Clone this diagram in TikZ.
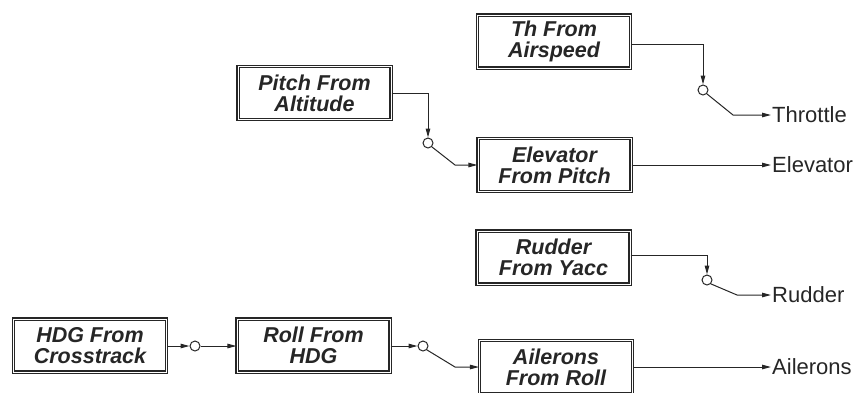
\documentclass[tikz,border=0pt]{standalone}
\usepackage{fontspec}
\setmainfont{Liberation Sans}
\usetikzlibrary{arrows.meta,positioning}

\begin{document}
\begin{tikzpicture}[x=1pt, y=-1pt, box/.style={draw=black!85,line width=1.1pt,double=white,double distance=0.9pt,align=center,minimum width=153pt,minimum height=53pt,inner sep=0pt,font=\fontsize{21.5}{21}\selectfont\bfseries\itshape,text=black!85}, sw/.style={circle,draw=black!85,line width=1pt,minimum size=10pt,inner sep=0pt}, outlbl/.style={anchor=west,inner sep=1pt,font=\fontsize{22}{22}\selectfont,text=black!85}, wire/.style={draw=black!85,line width=1pt}, >={Triangle[length=9pt,width=4.5pt]}]
\useasboundingbox (0,0) rectangle (858,392);
\node[box] (th) at (554,41.5) {Th From\\Airspeed};
\node[box] (pitch) at (314.5,93) {Pitch From\\Altitude};
\node[box] (elev) at (554.5,165) {Elevator\\From Pitch};
\node[box] (rud) at (553.5,257.5) {Rudder\\From Yacc};
\node[box] (hdg) at (90,345.5) {HDG From\\Crosstrack};
\node[box] (roll) at (313.5,345.5) {Roll From\\HDG};
\node[box] (ail) at (556,367) {Ailerons\\From Roll};
\node[sw] (swth) at (703,90) {};
\node[sw] (swel) at (428,143) {};
\node[sw] (swru) at (707,280) {};
\node[sw] (swhd) at (195,346) {};
\node[sw] (swai) at (423,346) {};
\coordinate (kth) at (733,115);
\coordinate (kel) at (455,165);
\coordinate (kru) at (737,295);
\coordinate (kai) at (455,367);
\node[outlbl] (thr) at (771,115) {Throttle};
\node[outlbl] (elo) at (771,165) {Elevator};
\node[outlbl] (ruo) at (771,295) {Rudder};
\node[outlbl] (aio) at (771,367) {Ailerons};
\draw[wire,->] (th.east |- 0,44) -| (swth.north);
\draw[wire,->] (swth.south east) -- (kth) -- (thr.west);
\draw[wire,->] (pitch.east) -| (swel.north);
\draw[wire,->] (swel.south east) -- (kel) -- (elev.west);
\draw[wire,->] (elev.east) -- (elo.west);
\draw[wire,->] (rud.east |- 0,255) -| (swru.north);
\draw[wire,->] (swru.south east) -- (kru) -- (ruo.west);
\draw[wire,->] (hdg.east |- swhd) -- (swhd.west);
\draw[wire,->] (swhd.east) -- (roll.west |- swhd);
\draw[wire,->] (roll.east |- swai) -- (swai.west);
\draw[wire,->] (swai.south east) -- (kai) -- (ail.west);
\draw[wire,->] (ail.east) -- (aio.west);
\end{tikzpicture}
\end{document}
